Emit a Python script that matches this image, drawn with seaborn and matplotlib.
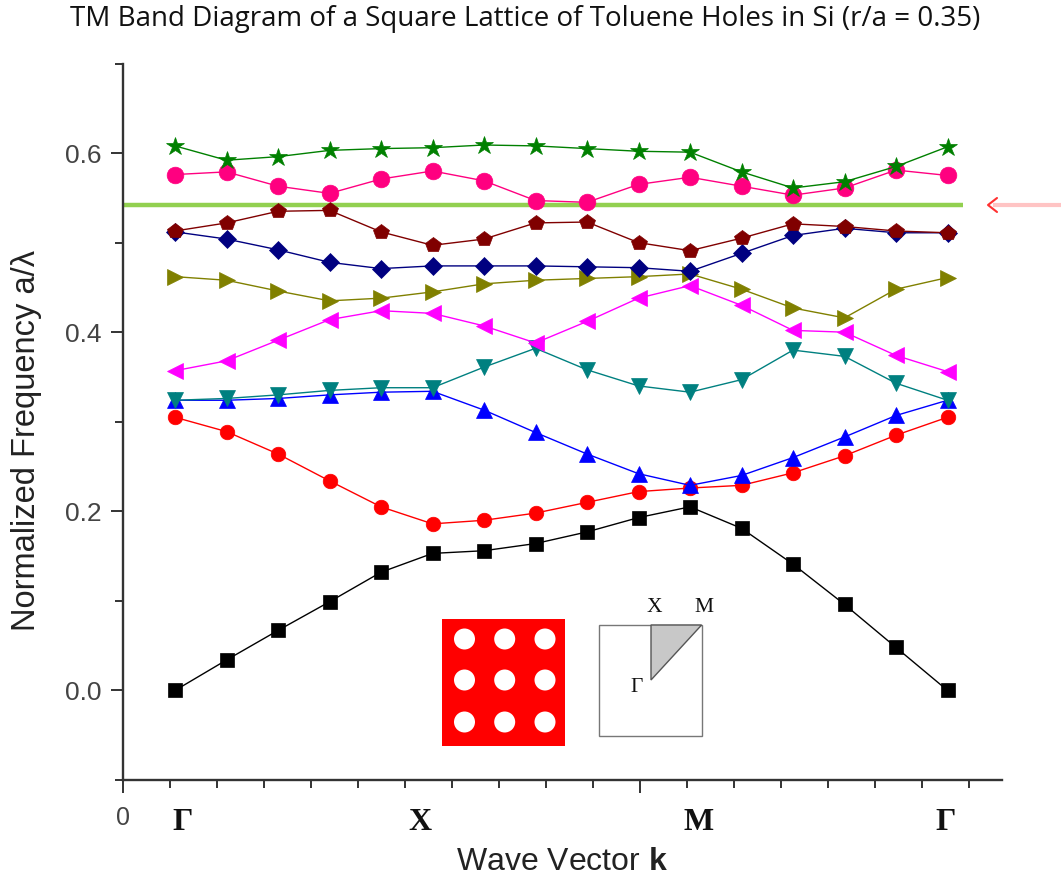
import numpy as np
import pandas as pd
import matplotlib
matplotlib.use("Agg")
import matplotlib.pyplot as plt
import seaborn as sns
from matplotlib.patches import Rectangle, Polygon, Circle

# ---------------- data ----------------
k_index = list(range(16))

band1_black = [0.000, 0.034, 0.067, 0.099, 0.132, 0.153, 0.156, 0.164, 0.177, 0.193, 0.205, 0.181, 0.141, 0.096, 0.048, 0.000]
band2_red = [0.305, 0.289, 0.264, 0.234, 0.205, 0.186, 0.190, 0.198, 0.210, 0.222, 0.226, 0.229, 0.243, 0.262, 0.285, 0.305]
band3_blue = [0.324, 0.324, 0.326, 0.330, 0.333, 0.334, 0.313, 0.288, 0.264, 0.242, 0.229, 0.240, 0.260, 0.283, 0.307, 0.324]
band4_teal = [0.324, 0.326, 0.330, 0.335, 0.338, 0.338, 0.361, 0.382, 0.358, 0.340, 0.333, 0.347, 0.380, 0.373, 0.343, 0.324]
band5_magenta = [0.357, 0.368, 0.391, 0.414, 0.424, 0.421, 0.407, 0.388, 0.412, 0.438, 0.452, 0.430, 0.402, 0.400, 0.374, 0.356]
band6_olive = [0.462, 0.458, 0.446, 0.435, 0.438, 0.445, 0.454, 0.458, 0.460, 0.462, 0.465, 0.448, 0.427, 0.416, 0.448, 0.461]
band7_navy = [0.512, 0.504, 0.492, 0.478, 0.471, 0.474, 0.474, 0.474, 0.473, 0.472, 0.468, 0.488, 0.508, 0.516, 0.511, 0.511]
band8_maroon = [0.513, 0.522, 0.535, 0.536, 0.512, 0.497, 0.504, 0.522, 0.523, 0.500, 0.491, 0.505, 0.521, 0.518, 0.513, 0.511]
band9_pink = [0.576, 0.579, 0.563, 0.555, 0.571, 0.580, 0.569, 0.547, 0.545, 0.565, 0.573, 0.563, 0.553, 0.561, 0.581, 0.575]
band10_green = [0.608, 0.592, 0.596, 0.603, 0.605, 0.606, 0.609, 0.608, 0.605, 0.602, 0.601, 0.579, 0.561, 0.568, 0.585, 0.607]

bands = [band1_black, band2_red, band3_blue, band4_teal, band5_magenta,
         band6_olive, band7_navy, band8_maroon, band9_pink, band10_green]
band_colors = ["#000000", "#ff0000", "#0000ff", "#008080", "#ff00ff",
               "#808000", "#000080", "#800000", "#ff0080", "#008000"]
band_markers = ["s", "o", "^", "v", "<", ">", "D", "p", "o", "*"]
band_msizes = [10, 10.5, 12, 12, 12, 12, 9.5, 11.5, 12, 13.5]

guide_freq = 0.542           # horizontal reference line
sym_labels = ["\u0393", "X", "M", "\u0393"]
sym_label_pos = [0.14, 4.76, 10.16, 14.97]
title_text = "TM Band Diagram of a Square Lattice of Toluene Holes in Si (r/a = 0.35)"
ylabel_text = "Normalized Frequency a/\u03bb"
xlabel_text = r"Wave Vector $\mathbf{k}$"

# ---------------- style ----------------
sns.set_theme(style="ticks")
plt.rcParams["font.family"] = ["Liberation Sans", "DejaVu Sans"]
plt.rcParams["mathtext.fontset"] = "custom"
plt.rcParams["mathtext.rm"] = "Liberation Sans"
plt.rcParams["mathtext.bf"] = "Liberation Sans:bold"

W, H = 1061, 884
fig = plt.figure(figsize=(W / 100, H / 100), dpi=100)
fig.patch.set_facecolor("white")

ax_l, ax_r, ax_t, ax_b = 122.7, 1002, 63.5, 780
ax = fig.add_axes([ax_l / W, 1 - ax_b / H, (ax_r - ax_l) / W, (ax_b - ax_t) / H])
ax.set_facecolor("white")

for vals, c, m, ms in zip(bands, band_colors, band_markers, band_msizes):
    sns.lineplot(x=k_index, y=vals, ax=ax, color=c, marker=m, markersize=ms,
                 markeredgecolor=c, markeredgewidth=0.5, linewidth=1.0,
                 legend=False, zorder=3)

# x axis: ticks spaced 47px, points spaced 51.5px, origin at -1.016
tick_step = 47 / 51.5
tick_origin = -1.016
tick_pos = tick_origin + tick_step * np.arange(19)
ax.set_xlim(tick_origin, tick_origin + (ax_r - ax_l) / 51.5)
ax.set_ylim(-0.1, 0.7)

ax.hlines(guide_freq, tick_origin, (963 - 175) / 51.5, color="#92d050",
          linewidth=3.2, zorder=2)

major_idx = [0, 11]
ax.set_xticks([tick_pos[i] for i in major_idx])
ax.set_xticklabels(["0", ""])
ax.set_xticks([p for j, p in enumerate(tick_pos) if j not in major_idx], minor=True)
ax.set_yticks([0.0, 0.2, 0.4, 0.6])
ax.set_yticklabels(["0.0", "0.2", "0.4", "0.6"])
ax.set_yticks(np.round(np.arange(-0.1, 0.71, 0.1), 2), minor=True)

for s in ["top", "right"]:
    ax.spines[s].set_visible(False)
for s in ["left", "bottom"]:
    ax.spines[s].set_linewidth(1.7)
    ax.spines[s].set_color("#333333")

ax.tick_params(axis="both", which="both", direction="out", color="#333333", width=1.4)
ax.tick_params(axis="y", which="major", length=9, labelsize=19, labelcolor="#444444", pad=6)
ax.tick_params(axis="y", which="minor", length=6)
ax.tick_params(axis="x", which="major", length=9, labelsize=18, labelcolor="#444444", pad=10)
ax.tick_params(axis="x", which="minor", length=6)
ax.grid(False)

for lab, xp in zip(sym_labels, sym_label_pos):
    ax.text(xp, -0.1475, lab, ha="center", va="center", fontsize=23,
            fontweight="bold", family=["Liberation Serif", "DejaVu Serif"],
            color="#111111", clip_on=False)

# ---------------- texts in figure pixels ----------------
def fx(px):
    return px / W

def fy(py):
    return 1 - py / H

fig.text(fx(525), fy(19), title_text, ha="center", va="center", fontsize=20,
         family=["Open Sans", "DejaVu Sans"], color="#111111")
fig.text(fx(27), fy(440), ylabel_text, ha="center", va="center", rotation=90,
         fontsize=23.5, color="#222222")
fig.text(fx(562), fy(862), xlabel_text, ha="center", va="center", fontsize=23,
         color="#222222")

# ---------------- overlay: insets and arrow ----------------
ov = fig.add_axes([0, 0, 1, 1], zorder=5)
ov.set_xlim(0, W)
ov.set_ylim(H, 0)
ov.axis("off")
ov.patch.set_alpha(0)

ov.add_patch(Rectangle((441.6, 619), 123.4, 126.5, fc="#ff0000", ec="none"))
for cx in [464.5, 504.7, 545.0]:
    for cy in [639, 680, 722]:
        ov.add_patch(Circle((cx, cy), 10.5, fc="white", ec="none"))

ov.add_patch(Rectangle((599, 625), 102.6, 111, fc="white", ec="#777777", lw=1.0))
ov.add_patch(Polygon([(651, 625), (701.6, 625), (651, 680)], closed=True,
                     fc="#c8c8c8", ec="#555555", lw=1.0))
serif = ["Liberation Serif", "DejaVu Serif"]
ov.text(654, 608, "X", ha="center", va="center", fontsize=15.5, family=serif, color="#111111")
ov.text(704, 608, "M", ha="center", va="center", fontsize=15.5, family=serif, color="#111111")
ov.text(637, 688, "\u0393", ha="center", va="center", fontsize=15.5, family=serif, color="#111111")

ov.plot([993, 1061], [205, 205], color="#ffc4c4", lw=3.0, solid_capstyle="butt")
ov.plot([997, 988, 997], [198, 205, 212], color="#ff3030", lw=1.5)

fig.savefig("out.png", dpi=100, facecolor="white")
